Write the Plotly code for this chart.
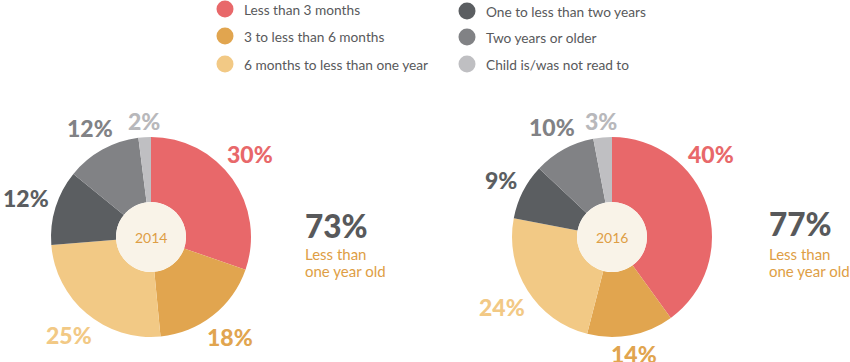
import math
import plotly.graph_objects as go

# ---------------- data ----------------
categories = [
    "Less than 3 months",
    "3 to less than 6 months",
    "6 months to less than one year",
    "One to less than two years",
    "Two years or older",
    "Child is/was not read to",
]
years = ["2014", "2016"]
values_2014 = [30, 18, 25, 12, 12, 2]
values_2016 = [40, 14, 24, 9, 10, 3]
share_under_one = ["73%", "77%"]
side_caption = ["Less than", "one year old"]

# ---------------- style ----------------
W, H = 850, 362
FONT = "Lato"
slice_colors = ["#E8686A", "#E1A54F", "#F2C985", "#5B5E61", "#818285", "#BFBFC2"]
label_colors = ["#E8686A", "#E1A54F", "#F2C985", "#5B5E61", "#818285", "#B8B8BB"]
text_gray = "#58595B"
accent = "#DE9E45"
cream = "#F9F3E8"

pies = [dict(cx=151, cy=237, r=100, side_x=305, share_y=226),
        dict(cx=612, cy=237, r=100, side_x=769, share_y=224)]
hole = 0.35
LABEL_SIZE = 23
label_gap = 7
legend_cols = [dict(mx=225, tx=242, ys=[9, 36, 64]),
               dict(mx=467, tx=484, ys=[11, 37, 64])]

fig = go.Figure()
annotations = []
shapes = []

for vals, year, geo, share in zip([values_2014, values_2016], years, pies, share_under_one):
    cx, cy, r = geo["cx"], geo["cy"], geo["r"]
    fig.add_trace(go.Pie(
        values=vals, labels=categories, sort=False, direction="clockwise", rotation=0,
        hole=hole, textinfo="none", hoverinfo="label+percent",
        marker=dict(colors=slice_colors, line=dict(width=0)),
        domain=dict(x=[(cx - r) / W, (cx + r) / W], y=[1 - (cy + r) / H, 1 - (cy - r) / H]),
        showlegend=False,
    ))
    # cream center
    hr = r * hole
    shapes.append(dict(type="circle", xref="x", yref="y", x0=cx - hr, x1=cx + hr,
                       y0=cy - hr, y1=cy + hr, fillcolor=cream, line=dict(width=0), layer="above"))
    annotations.append(dict(x=cx, y=cy, xref="x", yref="y", text=year, showarrow=False,
                            font=dict(family=FONT, size=14, color=accent)))
    # percentage labels just outside the slice mid-angles
    total = sum(vals)
    cum = 0
    for i, v in enumerate(vals):
        mid = (cum + v / 2) / total * 360
        cum += v
        ang = min(mid, 50) if i == 0 else mid  # keep first label clear of side text
        a = math.radians(ang)
        txt = f"{v}%"
        hw = (0.57 * LABEL_SIZE * (len(txt) - 1) + 0.82 * LABEL_SIZE) / 2
        hh = 0.36 * LABEL_SIZE
        d = r + label_gap + abs(math.sin(a)) * hw + abs(math.cos(a)) * hh
        annotations.append(dict(
            x=cx + d * math.sin(a), y=cy - d * math.cos(a),
            xref="x", yref="y", text=txt, showarrow=False,
            font=dict(family=FONT, size=LABEL_SIZE, color=label_colors[i], weight=900)))
    # side text
    sx = geo["side_x"]
    annotations.append(dict(x=sx - 2, y=geo["share_y"], xref="x", yref="y", text=share,
                            showarrow=False, xanchor="left", yanchor="middle",
                            font=dict(family=FONT, size=31.5, color=text_gray, weight=900)))
    for j, line in enumerate(side_caption):
        annotations.append(dict(x=sx - 2, y=254 + 16.5 * j, xref="x", yref="y", text=line,
                                showarrow=False, xanchor="left", yanchor="middle",
                                font=dict(family=FONT, size=15, color=accent)))

# legend
lx, ly, lc = [], [], []
for k, col in enumerate(legend_cols):
    for j, y in enumerate(col["ys"]):
        idx = k * 3 + j
        lx.append(col["mx"]); ly.append(y); lc.append(slice_colors[idx])
        annotations.append(dict(x=col["tx"], y=y, xref="x", yref="y", text=categories[idx],
                                showarrow=False, xanchor="left", yanchor="middle",
                                font=dict(family=FONT, size=13.7, color=text_gray)))
fig.add_trace(go.Scatter(x=lx, y=ly, mode="markers", hoverinfo="skip", showlegend=False,
                         marker=dict(size=17, color=lc, line=dict(width=0))))

fig.update_layout(
    width=W, height=H, margin=dict(l=0, r=0, t=0, b=0),
    paper_bgcolor="white", plot_bgcolor="rgba(0,0,0,0)",
    xaxis=dict(range=[0, W], visible=False, fixedrange=True, domain=[0, 1]),
    yaxis=dict(range=[H, 0], visible=False, fixedrange=True, domain=[0, 1]),
    annotations=annotations, shapes=shapes, showlegend=False,
)
fig.write_html("out.html", config={"displayModeBar": False},
               post_script="document.body.style.margin='0';document.body.style.overflow='hidden';")
